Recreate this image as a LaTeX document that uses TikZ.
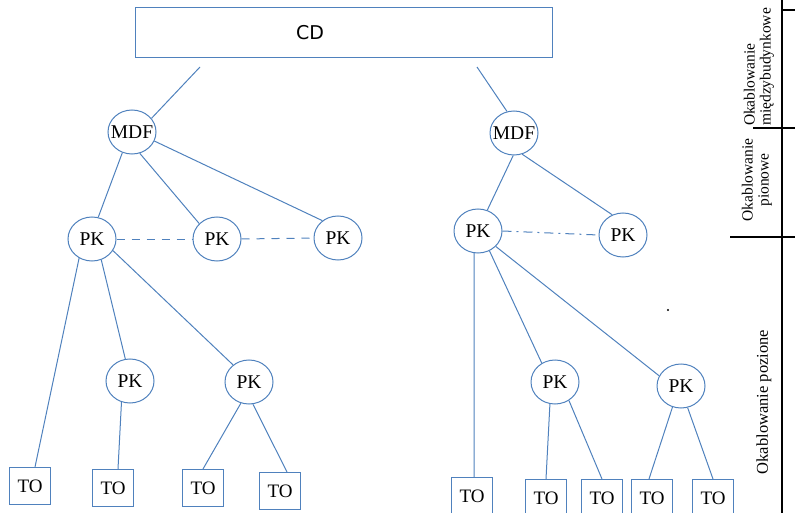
\documentclass[tikz,border=0pt]{standalone}
\usepackage{fontspec}
\setmainfont{Liberation Serif}
\newfontfamily\cdfont{DejaVu Sans}
\usetikzlibrary{shapes.geometric}
\definecolor{lnblue}{RGB}{79,129,189}
\begin{document}
\begin{tikzpicture}[x=1pt,y=-1pt,
  conn/.style={draw=lnblue, line width=1pt},
  dashconn/.style={draw=lnblue, line width=1pt, dash pattern=on 8pt off 7pt},
  dashdotconn/.style={draw=lnblue, line width=1pt, dash pattern=on 9pt off 5pt on 2pt off 5pt},
  ell/.style={ellipse, draw=lnblue, line width=1pt, minimum width=48pt, minimum height=44pt, inner sep=0pt, font=\fontsize{19.5}{19.5}\selectfont},
  tobox/.style={rectangle, draw=lnblue, line width=1pt, minimum width=41pt, minimum height=37pt, inner sep=0pt, font=\fontsize{19}{19}\selectfont},
  bar/.style={line width=2pt, draw=black},
  side/.style={rotate=90, font=\fontsize{15.5}{16}\selectfont, inner sep=0pt}
]
\useasboundingbox (0,0) rectangle (795,513);

% top box
\node[rectangle, draw=lnblue, line width=1pt, minimum width=417pt, minimum height=50pt, inner sep=0pt] (CD) at (343.5,33) {};
\node[font=\cdfont\fontsize{19}{19}\selectfont, inner sep=0pt] (CDtext) at (310,33) {CD};
\coordinate (c1) at (200,67);
\coordinate (c2) at (477,67);

% left tree
\node[ell] (MDFL) at (132,132) {\makebox[0pt]{MDF}};
\node[ell] (PK1) at (92,239) {\makebox[0pt]{PK}};
\node[ell] (PK2) at (217,239) {\makebox[0pt]{PK}};
\node[ell] (PK3) at (338,238) {\makebox[0pt]{PK}};
\node[ell] (PK4) at (130,381) {\makebox[0pt]{PK}};
\node[ell] (PK5) at (249,382) {\makebox[0pt]{PK}};
\node[tobox] (TO1) at (30,486) {TO};
\node[tobox] (TO2) at (113,488) {TO};
\node[tobox] (TO3) at (203,488) {TO};
\node[tobox] (TO4) at (280,491) {TO};

% right tree
\node[ell] (MDFR) at (514,133) {\makebox[0pt]{MDF}};
\node[ell] (PKR) at (478,231) {\makebox[0pt]{PK}};
\node[ell] (PKR2) at (623,235) {\makebox[0pt]{PK}};
\node[ell] (PK6) at (555,382) {\makebox[0pt]{PK}};
\node[ell] (PK7) at (681,386) {\makebox[0pt]{PK}};
\node[tobox] (TO5) at (472,496) {TO};
\node[tobox] (TO6) at (546,498) {TO};
\node[tobox] (TO7) at (602,498) {TO};
\node[tobox] (TO8) at (652,498) {TO};
\node[tobox] (TO9) at (713,498) {TO};

% connectors left
\draw[conn] (c1) -- (MDFL.35);
\draw[conn] (MDFL.-115) -- (PK1.74);
\draw[conn] (MDFL.-70) -- (PK2.139);
\draw[conn] (MDFL.-22) -- (PK3.132);
\draw[dashconn] (PK1.east) -- (PK2.west);
\draw[dashconn] (PK2.east) -- (PK3.west);
\draw[conn] (PK1.-124) -- ([xshift=5pt]TO1.north);
\draw[conn] (PK1.-66) -- (PK4.102);
\draw[conn] (PK1.-29) -- (PK5.133);
\draw[conn] (PK4.-112) -- ([xshift=5pt]TO2.north);
\draw[conn] (PK5.-111) -- (TO3.north);
\draw[conn] (PK5.-80) -- ([xshift=7pt]TO4.north);

% connectors right
\draw[conn] (c2) -- (MDFR.108);
\draw[conn] (MDFR.-92) -- (PKR.66);
\draw[conn] (MDFR.-69) -- (PKR2.118);
\draw[dashdotconn] (PKR.east) -- (PKR2.west);
\draw[conn] (PKR.-100) -- ([xshift=2pt]TO5.north);
\draw[conn] (PKR.-60) -- (PK6.125);
\draw[conn] (PKR.-41) -- (PK7.155);
\draw[conn] (PK6.-103) -- (TO6.north);
\draw[conn] (PK6.-53) -- (TO7.north);
\draw[conn] (PK7.-112) -- ([xshift=-3pt]TO8.north);
\draw[conn] (PK7.-73) -- (TO9.north);

% stray dot
\fill (668,310) circle (1.2);

% side bar
\draw[bar] (782,0) -- (782,513);
\draw[bar] (782,10) -- (795,10);
\draw[bar] (753,128) -- (795,128);
\draw[bar] (730,237) -- (795,237);
\node[side, align=left] (s1) at (759,67) {Okablowanie\\międzybudynkowe};
\node[side, align=center] (s2) at (757,180) {Okablowanie\\pionowe};
\node[side, font=\fontsize{16.5}{17}\selectfont] (s3) at (764,402) {Okablowanie pozione};
\end{tikzpicture}
\end{document}
